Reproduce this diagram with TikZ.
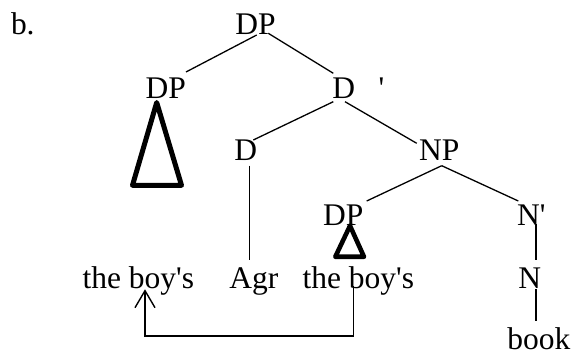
\documentclass[tikz,border=0pt]{standalone}
\usepackage{fontspec}
\setmainfont{Liberation Serif}[Ligatures=TeXOff]
\usetikzlibrary{calc,arrows.meta}
\begin{document}
\begin{tikzpicture}[x=1pt,y=-1pt,
  lbl/.style={inner sep=0pt,outer sep=0pt,anchor=base,font=\fontsize{31.5}{36}\selectfont},
  edge/.style={line width=1.3pt},
  tri/.style={line width=5pt,line join=round,line cap=round},
  move/.style={line width=1.4pt,-{Straight Barb[length=17pt,width=20pt,line width=1.4pt]}}]
\useasboundingbox (0,0) rectangle (571,352);
\node[lbl,anchor=base west] (b) at (11,34.3) {b.};
\node[lbl] (T) at (255.5,34.3) {DP};
\node[lbl] (DPL) at (165.8,98.3) {DP};
\node[lbl] (DB) at (343.7,98.3) {D};
\node[lbl] (prime) at (381.5,98.3) {'};
\node[lbl] (D2) at (245.8,161) {D};
\node[lbl] (NP) at (439.3,161) {NP};
\node[lbl] (DP3) at (343.3,225.3) {DP};
\node[lbl] (Nbar) at (531.3,225.3) {N'};
\node[lbl] (N) at (529.7,288.7) {N};
\node[lbl] (book) at (538.8,349.3) {book};
\node[lbl] (leafA) at (138.3,288.7) {the boy's};
\node[lbl] (Agr) at (253.8,288.7) {Agr};
\node[lbl] (leafB) at (358.3,288.7) {the boy's};
% branches
\draw[edge] ($(T.base)+(1.2,0.7)$) -- ($(DPL.base)+(20.2,-26.3)$);
\draw[edge] ($(T.base)+(12.8,-1)$) -- ($(DB.base)+(-10.4,-25)$);
\draw[edge] ($(DB.base)+(-10.4,3.4)$) -- ($(D2.base)+(7.5,-21)$);
\draw[edge] ($(DB.base)+(1.3,3.4)$) -- ($(NP.base)+(-22.6,-17.7)$);
\draw[edge] ($(D2.base)+(3.5,4.7)$) -- ($(Agr.base)+(-4.5,-28.7)$);
\draw[edge] ($(NP.base)+(2.4,4.7)$) -- ($(DP3.base)+(23.4,-24.3)$);
\draw[edge] ($(NP.base)+(2.4,4.7)$) -- ($(Nbar.base)+(-13,-24.3)$);
\draw[edge] ($(Nbar.base)+(4.7,-1)$) -- ($(N.base)+(6.3,-28.7)$);
\draw[edge] ($(N.base)+(6.3,0.6)$) -- ($(book.base)+(-2.8,-28.3)$);
% triangles
\draw[tri] ($(DPL.base)+(-9.1,4.2)$) -- ($(DPL.base)+(-33.3,87)$) -- ($(DPL.base)+(15.7,87)$) -- cycle;
\draw[tri,line width=4.6pt] ($(DP3.base)+(6.7,0.5)$) -- ($(DP3.base)+(-8,31.5)$) -- ($(DP3.base)+(20.7,31.5)$) -- cycle;
% movement arrow
\draw[move] ($(leafB.base)+(-5,-2.7)$) |- ($(leafA.base)+(6.7,47.3)$) -- ($(leafA.base)+(6.7,0.6)$);
\end{tikzpicture}
\end{document}
